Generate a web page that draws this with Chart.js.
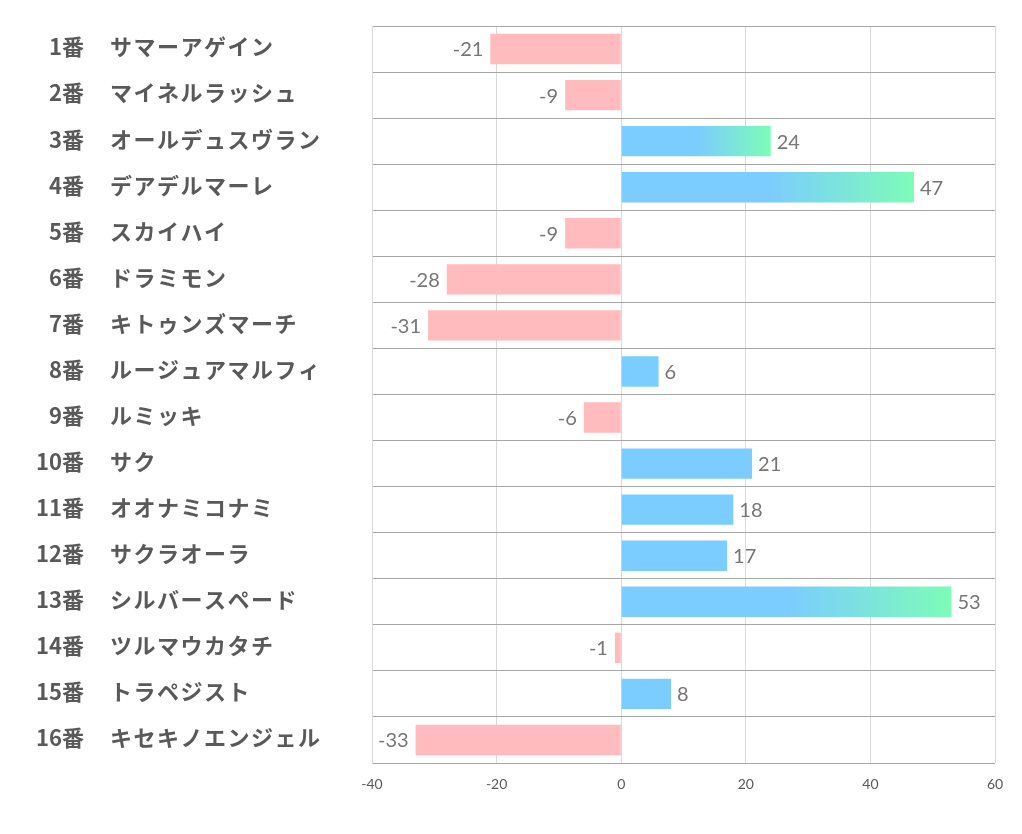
<!DOCTYPE html>
<html>
<head>
<meta charset="utf-8">
<script src="https://cdn.jsdelivr.net/npm/chart.js@4"></script>
<style>
  body { margin: 0; background: #fff; }
  #wrap { width: 1022px; height: 834px; }
</style>
</head>
<body>
<div id="wrap"><canvas id="chart"></canvas></div>
<script>
var numeros = ["1番", "2番", "3番", "4番", "5番", "6番", "7番", "8番", "9番", "10番", "11番", "12番", "13番", "14番", "15番", "16番"];
var nombres = ["サマーアゲイン", "マイネルラッシュ", "オールデュスヴラン", "デアデルマーレ", "スカイハイ", "ドラミモン", "キトゥンズマーチ", "ルージュアマルフィ", "ルミッキ", "サク", "オオナミコナミ", "サクラオーラ", "シルバースペード", "ツルマウカタチ", "トラペジスト", "キセキノエンジェル"];
var valores = [-21, -9, 24, 47, -9, -28, -31, 6, -6, 21, 18, 17, 53, -1, 8, -33];
var ticks_x = [-40, -20, 0, 20, 40, 60];

var azul = "#7bccff";
var verde = "#7dfcb8";
var rosa = "#ffbbbd";

// colorea cada barra, las largas con degradado azul -> verde
function color_barra(context) {
  var v = context.raw;
  if (v < 0) return rosa;
  if (v <= 22) return azul;
  var chart = context.chart;
  if (!chart.chartArea) return azul;
  var x = chart.scales.x;
  var x0 = x.getPixelForValue(0);
  var x1 = x.getPixelForValue(v);
  var g = chart.ctx.createLinearGradient(x0, 0, x1, 0);
  g.addColorStop(0, azul);
  g.addColorStop(0.5, azul);
  g.addColorStop(1, verde);
  return g;
}

// etiquetas de la izquierda (numero + nombre)
var etiquetas = {
  id: "etiquetas",
  afterDraw: function (chart) {
    var ctx = chart.ctx;
    var y = chart.scales.y;
    ctx.save();
    ctx.fillStyle = "#595959";
    ctx.textBaseline = "middle";
    for (var i = 0; i < numeros.length; i++) {
      var py = y.getPixelForTick(i) - 2;
      ctx.font = "bold 22px 'Noto Sans CJK JP'";
      ctx.letterSpacing = "0px";
      ctx.textAlign = "right";
      ctx.fillText(numeros[i], 84, py);
      ctx.letterSpacing = "1.5px";
      ctx.textAlign = "left";
      ctx.fillText(nombres[i], 110, py);
    }
    ctx.restore();
  },
};

// valores al final de cada barra
var valores_barra = {
  id: "valores_barra",
  afterDatasetsDraw: function (chart) {
    var ctx = chart.ctx;
    var meta = chart.getDatasetMeta(0);
    ctx.save();
    ctx.fillStyle = "#767676";
    ctx.font = "20px Lato";
    ctx.textBaseline = "middle";
    meta.data.forEach(function (bar, i) {
      var v = valores[i];
      if (v < 0) {
        ctx.textAlign = "right";
        ctx.fillText(String(v), bar.x - 7, bar.y + 1);
      } else {
        ctx.textAlign = "left";
        ctx.fillText(String(v), bar.x + 6, bar.y + 1);
      }
    });
    ctx.restore();
  },
};

var ctx = document.getElementById("chart").getContext("2d");

var myChart = new Chart(ctx, {
  type: "bar",
  data: {
    labels: numeros,
    datasets: [
      {
        data: valores,
        backgroundColor: color_barra,
        borderWidth: 0,
        categoryPercentage: 1,
        barPercentage: 0.66,
      },
    ],
  },
  options: {
    indexAxis: "y",
    responsive: true,
    maintainAspectRatio: false,
    animation: false,
    layout: {
      padding: { top: 26, right: 27, left: 0, bottom: 0 },
    },
    scales: {
      x: {
        min: -40,
        max: 60,
        z: 1,
        afterBuildTicks: function (s) {
          s.ticks = ticks_x.map(function (v) { return { value: v }; });
        },
        afterFit: function (s) {
          s.height = 71;
        },
        grid: {
          color: "#d9d9d9",
          lineWidth: 1,
          drawTicks: false,
        },
        border: { display: false },
        ticks: {
          color: "#595959",
          font: { family: "Lato", size: 14 },
          padding: 13,
        },
      },
      y: {
        afterFit: function (s) {
          s.width = 372;
        },
        grid: {
          offset: true,
          color: "#a6a6a6",
          lineWidth: 1,
          drawTicks: false,
        },
        border: { display: true, color: "#d9d9d9" },
        ticks: { display: false },
      },
    },
    plugins: {
      legend: { display: false },
      tooltip: { enabled: false },
    },
  },
  plugins: [etiquetas, valores_barra],
});
</script>
</body>
</html>
